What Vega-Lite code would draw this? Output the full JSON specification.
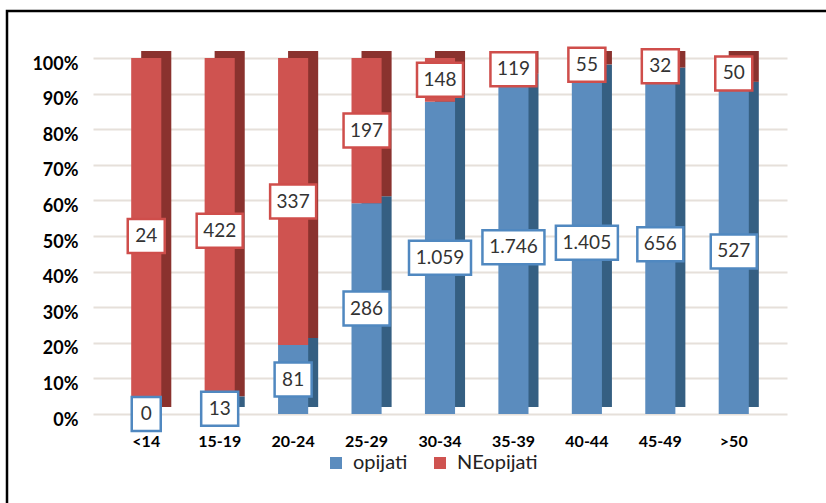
{
  "$schema": "https://vega.github.io/schema/vega-lite/v6.json",
  "autosize": "none",
  "padding": {"left": 7, "top": 11, "right": 0, "bottom": 0},
  "width": 830,
  "height": 500,
  "background": "white",
  "config": {
    "view": {"stroke": "black", "strokeWidth": 2.5},
    "locale": {"number": {"decimal": ",", "thousands": ".", "grouping": [3], "currency": ["", ""]}},
    "font": "Lato",
    "legend": {"labelFont": "Lato", "labelFontSize": 20, "labelColor": "#222222", "symbolSize": 144, "symbolType": "square", "labelOffset": 7, "columnPadding": 22}
  },
  "data": {
    "values": [
      {"age": "<14", "series": "opijati", "value": 0},
      {"age": "<14", "series": "NEopijati", "value": 24},
      {"age": "15-19", "series": "opijati", "value": 13},
      {"age": "15-19", "series": "NEopijati", "value": 422},
      {"age": "20-24", "series": "opijati", "value": 81},
      {"age": "20-24", "series": "NEopijati", "value": 337},
      {"age": "25-29", "series": "opijati", "value": 286},
      {"age": "25-29", "series": "NEopijati", "value": 197},
      {"age": "30-34", "series": "opijati", "value": 1059},
      {"age": "30-34", "series": "NEopijati", "value": 148},
      {"age": "35-39", "series": "opijati", "value": 1746},
      {"age": "35-39", "series": "NEopijati", "value": 119},
      {"age": "40-44", "series": "opijati", "value": 1405},
      {"age": "40-44", "series": "NEopijati", "value": 55},
      {"age": "45-49", "series": "opijati", "value": 656},
      {"age": "45-49", "series": "NEopijati", "value": 32},
      {"age": ">50", "series": "opijati", "value": 527},
      {"age": ">50", "series": "NEopijati", "value": 50}
    ]
  },
  "encoding": {
    "x": {
      "field": "age",
      "type": "nominal",
      "sort": null,
      "scale": {"range": [86, 780], "paddingInner": 0.59, "paddingOuter": 0.52},
      "axis": {
        "title": null,
        "domain": false,
        "ticks": false,
        "grid": false,
        "labelAngle": 0,
        "offset": -97,
        "labelPadding": 19,
        "labelFont": "Lato",
        "labelFontWeight": "bold",
        "labelFontSize": 16,
        "labelColor": "#000000"
      }
    },
    "y": {
      "field": "value",
      "type": "quantitative",
      "stack": "normalize",
      "scale": {"domain": [0, 1], "nice": false, "range": [403, 47]},
      "axis": {
        "title": null,
        "format": ".0%",
        "values": [0, 0.1, 0.2, 0.3, 0.4, 0.5, 0.6, 0.7, 0.8, 0.9, 1],
        "domain": false,
        "ticks": false,
        "grid": true,
        "offset": -86,
        "labelPadding": 15,
        "labelOffset": 6,
        "labelFont": "Lato",
        "labelFontWeight": "bold",
        "labelFontSize": 18,
        "labelColor": "#000000",
        "gridColor": "#e6e0da",
        "gridWidth": 2
      }
    },
    "color": {
      "field": "series",
      "type": "nominal",
      "scale": {"domain": ["opijati", "NEopijati"], "range": ["#5b8cbe", "#cf5350"]},
      "legend": {
        "orient": "none",
        "legendX": 319,
        "legendY": 442,
        "direction": "horizontal",
        "title": null,
        "symbolType": "square",
        "symbolSize": 144,
        "symbolStrokeWidth": 0,
        "labelFont": "Lato",
        "labelFontSize": 20,
        "labelColor": "#222222",
        "labelOffset": 7,
        "columnPadding": 22,
        "padding": 0
      }
    },
    "order": {"field": "series", "sort": "descending"}
  },
  "layer": [
    {
      "mark": {"type": "bar", "xOffset": 10, "yOffset": -7, "y2Offset": -7},
      "encoding": {
        "fill": {"field": "series", "type": "nominal", "scale": {"range": ["#8a322e", "#355f82"]}, "legend": null}
      }
    },
    {
      "mark": {"type": "bar"}
    },
    {
      "mark": {"type": "point", "filled": true, "opacity": 1, "strokeWidth": 2.5},
      "encoding": {
        "y": {
          "field": "value",
          "type": "quantitative",
          "stack": "normalize",
          "bandPosition": 0.5,
          "scale": {"domain": [0, 1], "nice": false, "range": [403, 47]},
          "axis": {
            "title": null,
            "format": ".0%",
            "values": [0, 0.1, 0.2, 0.3, 0.4, 0.5, 0.6, 0.7, 0.8, 0.9, 1],
            "domain": false,
            "ticks": false,
            "grid": true,
            "offset": -86,
            "labelPadding": 15,
            "labelOffset": 6,
            "labelFont": "Lato",
            "labelFontWeight": "bold",
            "labelFontSize": 18,
            "labelColor": "#000000",
            "gridColor": "#e6e0da",
            "gridWidth": 2
          }
        },
        "color": {"value": "white"},
        "fill": {"value": "white"},
        "stroke": {"field": "series", "type": "nominal", "scale": {"range": ["#cf4e4b", "#5088c0"]}, "legend": null},
        "detail": {"field": "series"},
        "shape": {
          "condition": [
            {"test": "datum.value >= 1000", "value": "M-1,-0.548H1V0.548H-1Z"},
            {"test": "datum.value >= 100", "value": "M-1,-0.739H1V0.739H-1Z"},
            {"test": "datum.value >= 10", "value": "M-1,-0.919H1V0.919H-1Z"}
          ],
          "value": "M-0.853,-1H0.853V1H-0.853Z"
        },
        "size": {
          "condition": [
            {"test": "datum.value >= 1000", "value": 3844},
            {"test": "datum.value >= 100", "value": 2116},
            {"test": "datum.value >= 10", "value": 1369}
          ],
          "value": 1156
        }
      }
    },
    {
      "mark": {"type": "text", "font": "Lato", "fontSize": 19, "baseline": "middle", "align": "center"},
      "encoding": {
        "y": {
          "field": "value",
          "type": "quantitative",
          "stack": "normalize",
          "bandPosition": 0.5,
          "scale": {"domain": [0, 1], "nice": false, "range": [403, 47]},
          "axis": {
            "title": null,
            "format": ".0%",
            "values": [0, 0.1, 0.2, 0.3, 0.4, 0.5, 0.6, 0.7, 0.8, 0.9, 1],
            "domain": false,
            "ticks": false,
            "grid": true,
            "offset": -86,
            "labelPadding": 15,
            "labelOffset": 6,
            "labelFont": "Lato",
            "labelFontWeight": "bold",
            "labelFontSize": 18,
            "labelColor": "#000000",
            "gridColor": "#e6e0da",
            "gridWidth": 2
          }
        },
        "color": {"value": "#333333"},
        "detail": {"field": "series"},
        "text": {"field": "value", "type": "quantitative", "format": ",d"}
      }
    }
  ]
}
